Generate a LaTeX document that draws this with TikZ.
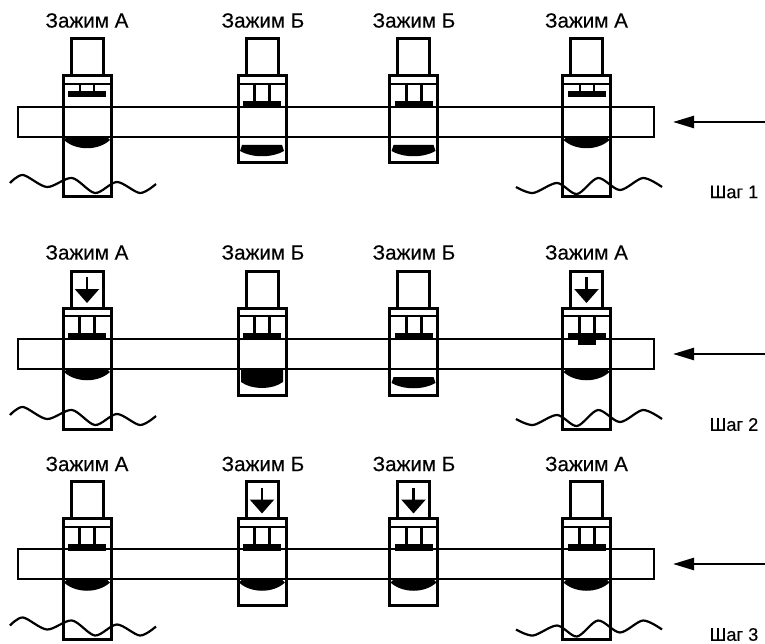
\documentclass[tikz,border=0pt]{standalone}
\usepackage{fontspec}
\setmainfont[FakeBold=0.3]{Liberation Sans}
\usetikzlibrary{arrows.meta}

\tikzstyle{podpis}= [inner sep=0pt,font=\fontsize{20.6}{22}\selectfont]
\tikzstyle{shag}= [inner sep=0pt,font=\fontsize{18.2}{20}\selectfont]
\tikzstyle{korpus}= [draw,black,line width=3pt]
\tikzstyle{tonkaya}= [draw,black,line width=2pt]
\tikzstyle{detal}= [draw,black,line width=2.8pt]
\tikzstyle{volna}= [draw,black,line width=2.2pt]
\tikzstyle{podacha}= [draw,black,line width=2.4pt,-{Triangle[length=21pt,width=12pt]}]
\tikzstyle{usilie}= [draw,black,line width=2.6pt,-{Triangle[length=14pt,width=24pt]}]

% x, shift, low end of the body
\newcommand{\korpus}[3]{
	\begin{scope}[shift={(#1,#2)}]
		\draw[korpus] (-16,39) rectangle (16,76);
		\draw[korpus] (-24,76) rectangle (24,#3);
		\draw[tonkaya] (-23,84) -- (23,84);
	\end{scope}
}
% upper jaw: off the bar, on the bar
\newcommand{\verhotkr}[2]{
	\begin{scope}[shift={(#1,#2)}]
		\draw[tonkaya] (-7,84) -- (-7,91);
		\draw[tonkaya] (7,84) -- (7,91);
		\fill (-19,91) rectangle (19,97);
	\end{scope}
}
\newcommand{\verhzakr}[2]{
	\begin{scope}[shift={(#1,#2)}]
		\draw[korpus] (-7.5,84) -- (-7.5,101);
		\draw[korpus] (7.5,84) -- (7.5,101);
		\fill (-19,101) rectangle (19,108);
	\end{scope}
}
% lower jaw: on the bar, off the bar, half way
\newcommand{\nizzakr}[2]{
	\begin{scope}[shift={(#1,#2)}]
		\fill (-20,137) -- (20,137) -- (23,140) .. controls (11,151) and (-11,151) .. (-23,140) -- cycle;
	\end{scope}
}
\newcommand{\nizotkr}[2]{
	\begin{scope}[shift={(#1,#2)}]
		\fill (-20,145) -- (20,145) -- (22,151) .. controls (10,158) and (-10,158) .. (-22,151) -- cycle;
	\end{scope}
}
\newcommand{\nizpolny}[2]{
	\begin{scope}[shift={(#1,#2)}]
		\fill (-21,138) -- (21,138) -- (21,150) .. controls (10,158) and (-10,158) .. (-21,150) -- cycle;
	\end{scope}
}
\newcommand{\sila}[2]{
	\begin{scope}[shift={(#1,#2)}]
		\draw[usilie] (0,45) -- (0,71);
	\end{scope}
}
\newcommand{\volny}[1]{
	\begin{scope}[shift={(0,#1)}]
		\draw[volna] plot[smooth] coordinates {(10,183) (23,175) (47,187) (72,178) (95,193) (117,182) (140,193) (156,184)};
		\draw[volna] plot[smooth] coordinates {(516,187) (533,193) (557,183) (577,194) (598,178) (620,190) (643,178) (662,187)};
	\end{scope}
}

\begin{document}
\begin{tikzpicture}[x=1pt,y=-1pt]
		\useasboundingbox (0,0) rectangle (765,644);

		% step 1
		\node (a1) at (87,20.5) [podpis] {Зажим А};
		\node (b1) at (263,20.5) [podpis] {Зажим Б};
		\node (c1) at (414,20.5) [podpis] {Зажим Б};
		\node (d1) at (586.5,20.5) [podpis] {Зажим А};
		\node (s1) at (734,192) [shag] {Шаг 1};
		\draw[detal] (18,107) rectangle (654,137);
		\korpus{87}{0}{197}
		\korpus{262}{0}{163}
		\korpus{413.5}{0}{163}
		\korpus{586.5}{0}{197}
		\verhotkr{87}{0}
		\verhzakr{262}{0}
		\verhzakr{413.5}{0}
		\verhotkr{586.5}{0}
		\nizzakr{87}{0}
		\nizotkr{262}{0}
		\nizotkr{413.5}{0}
		\nizzakr{586.5}{0}
		\volny{0}
		\coordinate (p1) at (765,122);
		\coordinate (q1) at (673,122);
		\draw[podacha] (p1) -- (q1);

		% step 2
		\node (a2) at (87,252.5) [podpis] {Зажим А};
		\node (b2) at (263,252.5) [podpis] {Зажим Б};
		\node (c2) at (414,252.5) [podpis] {Зажим Б};
		\node (d2) at (586.5,252.5) [podpis] {Зажим А};
		\node (s2) at (734,424.5) [shag] {Шаг 2};
		\draw[detal] (18,339) rectangle (654,369);
		\korpus{87}{232}{197}
		\korpus{262}{232}{163}
		\korpus{413.5}{232}{163}
		\korpus{586.5}{232}{197}
		\verhzakr{87}{232}
		\verhzakr{262}{232}
		\verhzakr{413.5}{232}
		\verhzakr{586.5}{232}
		\fill (578,340) rectangle (596,345);
		\nizzakr{87}{232}
		\nizpolny{262}{232}
		\nizotkr{413.5}{232}
		\nizzakr{586.5}{232}
		\sila{87}{232}
		\sila{586.5}{232}
		\volny{232}
		\coordinate (p2) at (765,354);
		\coordinate (q2) at (673,354);
		\draw[podacha] (p2) -- (q2);

		% step 3
		\node (a3) at (87,464) [podpis] {Зажим А};
		\node (b3) at (263,464) [podpis] {Зажим Б};
		\node (c3) at (414,464) [podpis] {Зажим Б};
		\node (d3) at (586.5,464) [podpis] {Зажим А};
		\node (s3) at (734,634.5) [shag] {Шаг 3};
		\draw[detal] (18,549) rectangle (654,579);
		\korpus{87}{442.5}{197}
		\korpus{262}{442.5}{163}
		\korpus{413.5}{442.5}{163}
		\korpus{586.5}{442.5}{197}
		\verhzakr{87}{442.5}
		\verhzakr{262}{442.5}
		\verhzakr{413.5}{442.5}
		\verhzakr{586.5}{442.5}
		\nizzakr{87}{442.5}
		\nizzakr{262}{442.5}
		\nizzakr{413.5}{442.5}
		\nizzakr{586.5}{442.5}
		\sila{262}{442.5}
		\sila{413.5}{442.5}
		\volny{442.5}
		\coordinate (p3) at (765,564);
		\coordinate (q3) at (673,564);
		\draw[podacha] (p3) -- (q3);

	\end{tikzpicture}
\end{document}
